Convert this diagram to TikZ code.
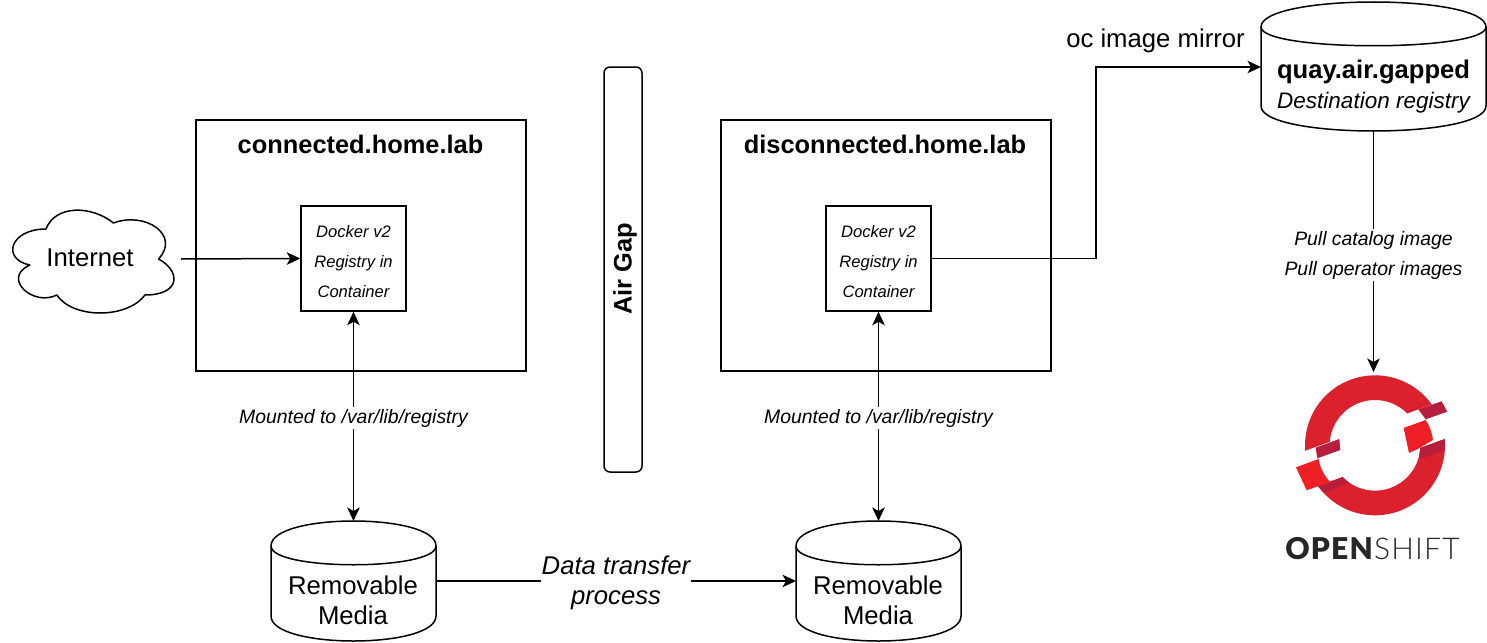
\documentclass[tikz,border=0pt]{standalone}
\usepackage{fontspec}
\setmainfont{Liberation Sans}
\newfontfamily\logofont[LetterSpace=4,BoldFont={Lato Black}]{Lato Light}
\usetikzlibrary{arrows.meta}
\tikzset{
  line/.style={line width=1.5pt,draw=black},
  conn/.style={line,-{Stealth[length=13.5pt,width=12.5pt,inset=3.5pt]}},
  biconn/.style={line,{Stealth[length=13.5pt,width=12.5pt,inset=3.5pt]}-{Stealth[length=13.5pt,width=12.5pt,inset=3.5pt]}},
  big/.style={font=\fontsize{25.7}{30}\selectfont,align=center},
  bigbold/.style={font=\fontsize{25.4}{30}\selectfont\bfseries,align=center},
  bigit/.style={font=\fontsize{25.7}{30}\selectfont\itshape,align=center},
  lbl/.style={font=\fontsize{19.4}{30}\selectfont\itshape,align=center,fill=white,inner sep=2pt},
  regtext/.style={font=\fontsize{16.6}{30}\selectfont\itshape,align=center,yshift=-3pt,inner sep=0pt},
  regbox/.style={line,fill=white,inner sep=0pt,minimum width=105pt,minimum height=105pt},
  hostbox/.style={line,inner sep=0pt,minimum width=330pt,minimum height=251pt},
  anchorbox/.style={inner sep=0pt,outer sep=0pt},
}
\newcommand{\cyl}[7]{% name, x, y, w, h, dy, text
  \begin{scope}[shift={(#2,#3)}]
    \pgfmathsetmacro{\cw}{#4}\pgfmathsetmacro{\ch}{#5}\pgfmathsetmacro{\cd}{#6}
    \pgfmathsetmacro{\ct}{-\cd/3}\pgfmathsetmacro{\cb}{\ch-\cd}\pgfmathsetmacro{\cc}{\ch+\cd/3}\pgfmathsetmacro{\ce}{2*\cd}
    \draw[line,fill=white,line join=round] (0,\cd) .. controls (0,\ct) and (\cw,\ct) .. (\cw,\cd) -- (\cw,\cb) .. controls (\cw,\cc) and (0,\cc) .. (0,\cb) -- cycle;
    \draw[line] (0,\cd) .. controls (0,\ce) and (\cw,\ce) .. (\cw,\cd);
    \node[anchorbox,anchor=north west,minimum width=#4pt,minimum height=#5pt] (#1) at (0,0) {};
    #7
  \end{scope}}
\newcommand{\ringpart}[2]{%
  \begin{scope}\clip #2 -- cycle;
    \fill[#1,even odd rule] (345,256) circle[radius=210] (345,256) circle[radius=136];
  \end{scope}}
\begin{document}
\begin{tikzpicture}[x=1pt,y=-1pt]
\path[use as bounding box] (0,0) rectangle (1487,642);
% hosts
\node[hostbox] (conn) at (361,245.5) {};
\node[bigbold,anchor=center] (conntitle) at (360.5,144) {connected.home.lab};
\node[hostbox] (disc) at (886,245.5) {};
\node[bigbold,anchor=center] (disctitle) at (885,144) {disconnected.home.lab};
% registries
\node[regbox,label={[regtext]center:Docker v2\\Registry in\\Container}] (reg1) at (353.5,258.5) {};
\node[regbox,label={[regtext]center:Docker v2\\Registry in\\Container}] (reg2) at (878.5,258.5) {};
% air gap
\draw[line,rounded corners=6pt] (604,67) rectangle (642,472);
\node[bigbold,rotate=90] (gap) at (625,269) {Air Gap};
% cloud
\begin{scope}[shift={(1,199)},x=180pt,y=-120pt]
\draw[line,line join=round] (0.25,0.25) .. controls (0.05,0.25) and (0,0.5) .. (0.16,0.55)
  .. controls (0,0.66) and (0.18,0.9) .. (0.31,0.8)
  .. controls (0.4,1) and (0.7,1) .. (0.8,0.8)
  .. controls (1,0.8) and (1,0.6) .. (0.875,0.5)
  .. controls (1,0.3) and (0.8,0.1) .. (0.625,0.2)
  .. controls (0.5,0.05) and (0.3,0.05) .. (0.25,0.25) -- cycle;
\end{scope}
\node[anchorbox,minimum width=180pt,minimum height=120pt] (net) at (91,259) {};
\node[big] (nettext) at (90,258) {Internet};
% cylinders
\cyl{media1}{271}{521}{165}{120}{25}{\node[big] (m1t) at (82,79) {Removable\\Media};}
\cyl{media2}{796}{521}{165}{120}{25}{\node[big] (m2t) at (82,79) {Removable\\Media};}
\cyl{quay}{1261}{2}{225}{129}{25}{\node[font=\fontsize{22.5}{30}\selectfont\itshape,align=center] (qt) at (112.5,85) {{\fontsize{25.6}{30}\selectfont\bfseries\upshape quay.air.gapped}\\Destination registry};}
% connectors
\coordinate (logotop) at (1373.5,372);
\draw[conn] (net.east) -- (reg1.west);
\draw[biconn] (reg1.south) -- node[lbl,pos=0.5,yshift=-2pt] {Mounted to /var/lib/registry} (media1.north -| reg1.south);
\draw[biconn] (reg2.south) -- node[lbl,pos=0.5,yshift=-2pt] {Mounted to /var/lib/registry} (media2.north -| reg2.south);
\draw[conn] (media1.east) -- node[bigit,fill=white,inner sep=1pt,yshift=-2pt] {Data transfer\\process} (media2.west);
\draw[conn] (reg2.east) -| (1096,67) -- (quay.west |- 0,67);
\node[big] (mirror) at (1155.5,41) {oc image mirror};
\draw[conn] (quay.south -| logotop) -- node[lbl,pos=0.515] {Pull catalog image\\Pull operator images} (logotop);
% logo
\begin{scope}[shift={(1260,360)},x=0.3333pt,y=-0.3333pt]
\definecolor{osred}{HTML}{DB212E}\definecolor{osbright}{HTML}{EE2026}\definecolor{osdark}{HTML}{B71E3B}
\ringpart{osred}{(60,300) -- (620,95) -- (620,-50) -- (60,-50)}
\ringpart{osred}{(100,405) -- (640,207) -- (640,560) -- (100,560)}
\ringpart{osdark}{(476,265) -- (600,220) -- (600,255) -- (480,297)}
\ringpart{osdark}{(170,380) -- (250,351) -- (270,366) -- (192,398)}
\fill[osdark] (475,148) -- (545,124) -- (562,155) -- (497,178) -- cycle;
\fill[osdark] (167,263) -- (238,237) -- (241,270) -- (172,295) -- cycle;
\fill[osbright] (431,204) -- (497,180) .. controls (510,200) and (517,220) .. (519,240) -- (475,266) -- (447,279) -- cycle;
\fill[osbright] (108,322) -- (176,297) .. controls (180,325) and (195,350) .. (212,368) -- (175,378) -- (140,391) -- cycle;
\end{scope}
\node[inner sep=0pt,font=\fontsize{30}{30}\selectfont\logofont,text=black!85] (logo) at (1372.5,549) {\textbf{OPEN}SHIFT};
\end{tikzpicture}
\end{document}
